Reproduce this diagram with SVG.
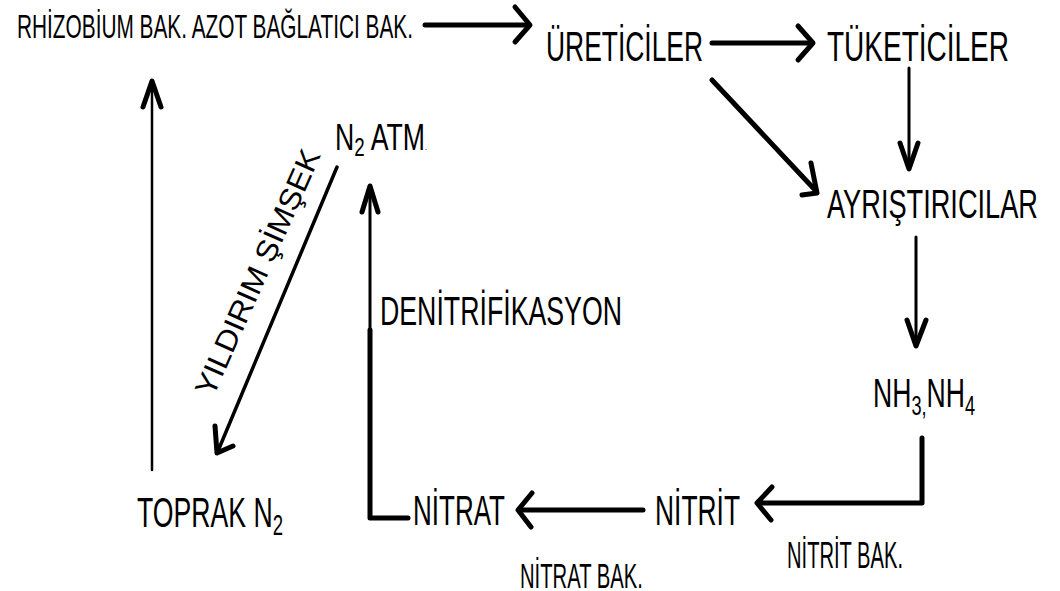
<svg xmlns="http://www.w3.org/2000/svg" width="1060" height="591" viewBox="0 0 1060 591">
<style>
text{font-family:"Liberation Sans",Arial,sans-serif;fill:#000}
.thick{fill:none;stroke:#000;stroke-width:5;stroke-linecap:round;stroke-linejoin:round}
.thin{fill:none;stroke:#000;stroke-width:3;stroke-linecap:round;stroke-linejoin:round}
.head{fill:none;stroke:#000;stroke-width:5;stroke-linecap:round;stroke-linejoin:round}
</style>
<rect width="1060" height="591" fill="#fff"/>
<g id="connectors">
  <path class="thick" d="M425,25 H529"/><path class="head" d="M515,7 L530,25 L515,42"/>
  <path class="thick" d="M712,43 H812"/><path class="head" d="M798,26 L813,43 L798,60"/>
  <path class="thin" d="M909,68 V168"/><path class="head" d="M900,143 L909,169 L918,143"/>
  <path class="thick" d="M712,80 L816,191"/><path class="head" d="M811,163 L817,193 L802,195"/>
  <path class="thin" d="M916,237 V345"/><path class="head" d="M907,320 L916,346 L926,320"/>
  <path class="thick" d="M922,438 V503 H758"/><path class="head" d="M772,487 L757,503 L771,520"/>
  <path class="thick" d="M643,510 H519"/><path class="head" d="M532,493 L518,510 L531,527"/>
  <path class="thick" d="M408,518 H370 V330"/><path class="thin" d="M370,330 V187"/><path class="head" d="M362,212 L370,186 L378,212"/>
  <path class="thin" d="M337,167 L218,451" style="stroke-width:3.5"/><path class="head" d="M215,426 L217,453 L233,446"/>
  <path class="thin" d="M152,470 V82" style="stroke-width:2.5"/><path class="head" d="M143,107 L152,81 L161,107"/>
</g>
<g id="rhizobium"><text x="17" y="38" font-size="34" textLength="396" lengthAdjust="spacingAndGlyphs">RHİZOBİUM BAK. AZOT BAĞLATICI BAK.</text></g>
<g id="ureticiler"><text x="546" y="61" font-size="42" textLength="157" lengthAdjust="spacingAndGlyphs">ÜRETİCİLER</text></g>
<g id="tuketiciler"><text x="827" y="61" font-size="42" textLength="182" lengthAdjust="spacingAndGlyphs">TÜKETİCİLER</text></g>
<g id="ayristiricilar"><text x="827" y="218" font-size="40" textLength="211" lengthAdjust="spacingAndGlyphs">AYRIŞTIRICILAR</text></g>
<g id="nh3nh4"><text x="873" y="407" font-size="41" textLength="102" lengthAdjust="spacingAndGlyphs">NH<tspan font-size="28" dy="8">3,</tspan><tspan dy="-8">NH</tspan><tspan font-size="28" dy="8">4</tspan></text></g>
<g id="nitrit"><text x="655" y="525" font-size="42" textLength="85" lengthAdjust="spacingAndGlyphs">NİTRİT</text></g>
<g id="nitrit-bak"><text x="787" y="568" font-size="37" textLength="116" lengthAdjust="spacingAndGlyphs">NİTRİT BAK.</text></g>
<g id="nitrat"><text x="413" y="525" font-size="42" textLength="92" lengthAdjust="spacingAndGlyphs">NİTRAT</text></g>
<g id="nitrat-bak"><text x="520" y="588" font-size="35" textLength="123" lengthAdjust="spacingAndGlyphs">NİTRAT BAK.</text></g>
<g id="denitrifikasyon"><text x="380" y="325" font-size="40" textLength="242" lengthAdjust="spacingAndGlyphs">DENİTRİFİKASYON</text></g>
<g id="n2atm"><text x="335" y="150" font-size="37" textLength="92" lengthAdjust="spacingAndGlyphs">N<tspan font-size="26" dy="6">2</tspan><tspan dy="-6"> ATM</tspan><tspan font-size="10">.</tspan></text></g>
<g id="toprak"><text x="137" y="527" font-size="43" textLength="146" lengthAdjust="spacingAndGlyphs">TOPRAK N<tspan font-size="30" dy="8">2</tspan></text></g>
<g id="yildirim"><text transform="translate(213,398) rotate(-66)" font-size="30" textLength="266" lengthAdjust="spacingAndGlyphs">YILDIRIM ŞİMŞEK</text></g>
</svg>
